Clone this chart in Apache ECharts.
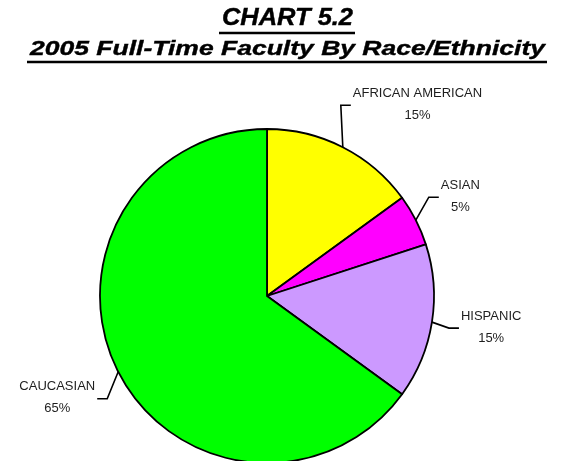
<!DOCTYPE html>
<html>
<head>
<meta charset="utf-8">
<script src="https://cdn.jsdelivr.net/npm/echarts@6/dist/echarts.min.js"></script>
<style>
  html, body { margin: 0; padding: 0; background: #fff; }
  #chart { width: 565px; height: 461px; }
</style>
</head>
<body>
<div id="chart"></div>
<script>
// Faculty headcount share by race/ethnicity (percent), clockwise from 12 o'clock
const categories = ['AFRICAN AMERICAN', 'ASIAN', 'HISPANIC', 'CAUCASIAN'];
const shares = [15, 5, 15, 65];
const sliceColors = ['#FFFF00', '#FF00FF', '#CC99FF', '#00FF00'];
const titleLines = ['CHART 5.2', '2005 Full-Time Faculty By Race/Ethnicity'];

// Leader-line shape per slice: elbow offset from the rim anchor, then a short tail
const leaderElbow = [[-2, -42], [13, -23], [17, 6], [-11, 27]];
const leaderTail = [10, 10, 10, -10];

const chart = echarts.init(document.getElementById('chart'), null, { renderer: 'canvas' });

// Title text is drawn wide; stretch each line to its set width
const titleFonts = ['italic bold 23px "Liberation Sans", Arial, sans-serif',
                    'italic bold 21px "Liberation Sans", Arial, sans-serif'];
const titleWidths = [131, 515];
const titleMidY = [18.6, 49.5];
const underlineY = [33, 62];
const titleCX = 287.5;
const measureCtx = document.createElement('canvas').getContext('2d');
const titleGraphics = [];
titleLines.forEach((t, i) => {
  measureCtx.font = titleFonts[i];
  const w = measureCtx.measureText(t).width;
  titleGraphics.push({
    type: 'text',
    x: titleCX, y: titleMidY[i],
    scaleX: titleWidths[i] / w,
    style: { text: t, font: titleFonts[i], fill: '#000', stroke: '#000', lineWidth: 0.4,
             textAlign: 'center', textVerticalAlign: 'middle' },
    silent: true
  });
  titleGraphics.push({
    type: 'line',
    shape: { x1: titleCX - titleWidths[i] / 2 - 3, y1: underlineY[i], x2: titleCX + titleWidths[i] / 2 + 2, y2: underlineY[i] },
    style: { stroke: '#000', lineWidth: 2.5 },
    silent: true
  });
});

chart.setOption({
  animation: false,
  backgroundColor: '#fff',
  graphic: titleGraphics,
  series: [{
    type: 'pie',
    center: [267, 296],
    radius: 167,
    startAngle: 90,
    clockwise: true,
    avoidLabelOverlap: false,
    data: categories.map((c, i) => ({ name: c, value: shares[i], itemStyle: { color: sliceColors[i] } })),
    itemStyle: { borderColor: '#000', borderWidth: 1.8 },
    emphasis: { disabled: true },
    label: {
      show: true,
      position: 'outside',
      formatter: p => p.name + '\n' + p.value + '%',
      fontFamily: '"Liberation Sans", Arial, sans-serif',
      fontSize: 13,
      lineHeight: 22,
      color: '#1e1e1e',
      align: 'center'
    },
    labelLine: {
      show: true,
      length: 20,
      length2: 10,
      lineStyle: { color: '#000', width: 1.6 }
    },
    labelLayout: function (params) {
      const i = params.dataIndex;
      const pts = params.labelLinePoints;
      if (!pts) return {};
      const a = pts[0];
      const elbow = [a[0] + leaderElbow[i][0], a[1] + leaderElbow[i][1]];
      const end = [elbow[0] + leaderTail[i], elbow[1]];
      const right = leaderTail[i] > 0;
      const half = params.labelRect.width / 2;
      return {
        x: end[0] + (right ? 2 + half : -2 - half),
        y: end[1] - 1,
        align: 'center',
        verticalAlign: 'middle',
        labelLinePoints: [a, elbow, end]
      };
    }
  }]
});
</script>
</body>
</html>
